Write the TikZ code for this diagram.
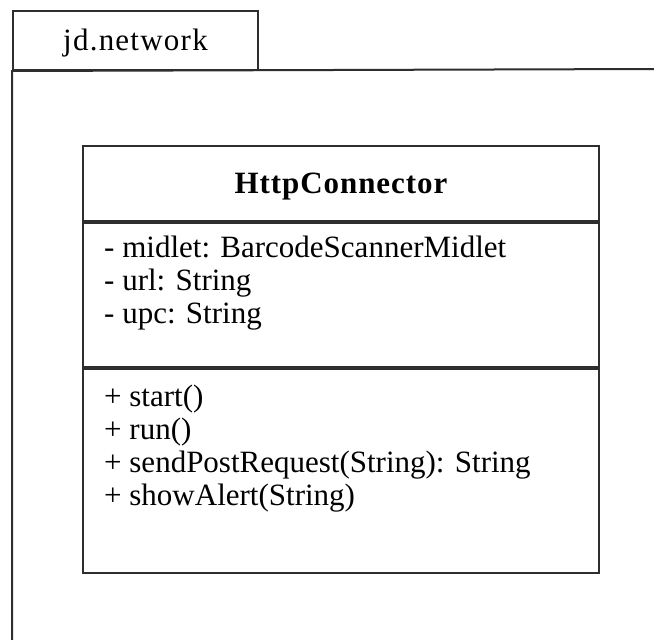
\documentclass[tikz,border=0pt]{standalone}
\usepackage{fontspec}
\setmainfont{Liberation Serif}
\begin{document}
\begin{tikzpicture}[x=1pt,y=-1pt]
\tikzset{
  frame/.style={draw=black!82, line width=2pt, inner sep=0pt},
  label/.style={inner sep=0pt, font=\fontsize{31}{33}\selectfont},
  member/.style={label, anchor=base west},
}
\useasboundingbox (0,0) rectangle (654,640);
\fill[white] (0,0) rectangle (654,640);

% package tab with its name
\node[frame, anchor=north west, minimum width=245pt, minimum height=59pt] (tab) at (12,10) {};
\node[label, anchor=base, font=\fontsize{31}{33}\selectfont\addfontfeatures{LetterSpace=4}]
  (pkgname) at ([yshift=-40pt]tab.north) {jd.network};

% package body: open to the right and bottom edges
\coordinate (bodyR) at (654,69);
\coordinate (bodyB) at (12,640);
\draw[frame] (bodyR) -- (tab.south west) -- (bodyB);

% class box: name, attributes, operations
\node[frame, anchor=north west, minimum width=516pt, minimum height=75pt] (title) at (82,145) {};
\node[frame, anchor=north west, minimum width=516pt, minimum height=144pt] (attrs) at (title.south west) {};
\node[frame, anchor=north west, minimum width=516pt, minimum height=204pt] (ops) at (attrs.south west) {};
\node[label, anchor=base, font=\fontsize{31}{33}\selectfont\bfseries\addfontfeatures{LetterSpace=3}]
  (cname) at ([yshift=-48pt]title.north) {HttpConnector};

\node[member] (a1) at (104,257) {- midlet: BarcodeScannerMidlet};
\node[member] (a2) at (104,290) {- url: String};
\node[member] (a3) at (104,323) {- upc: String};

\node[member] (m1) at (104,406) {+ start()};
\node[member] (m2) at (104,439) {+ run()};
\node[member] (m3) at (104,472) {+ sendPostRequest(String): String};
\node[member] (m4) at (104,505) {+ showAlert(String)};
\end{tikzpicture}
\end{document}
